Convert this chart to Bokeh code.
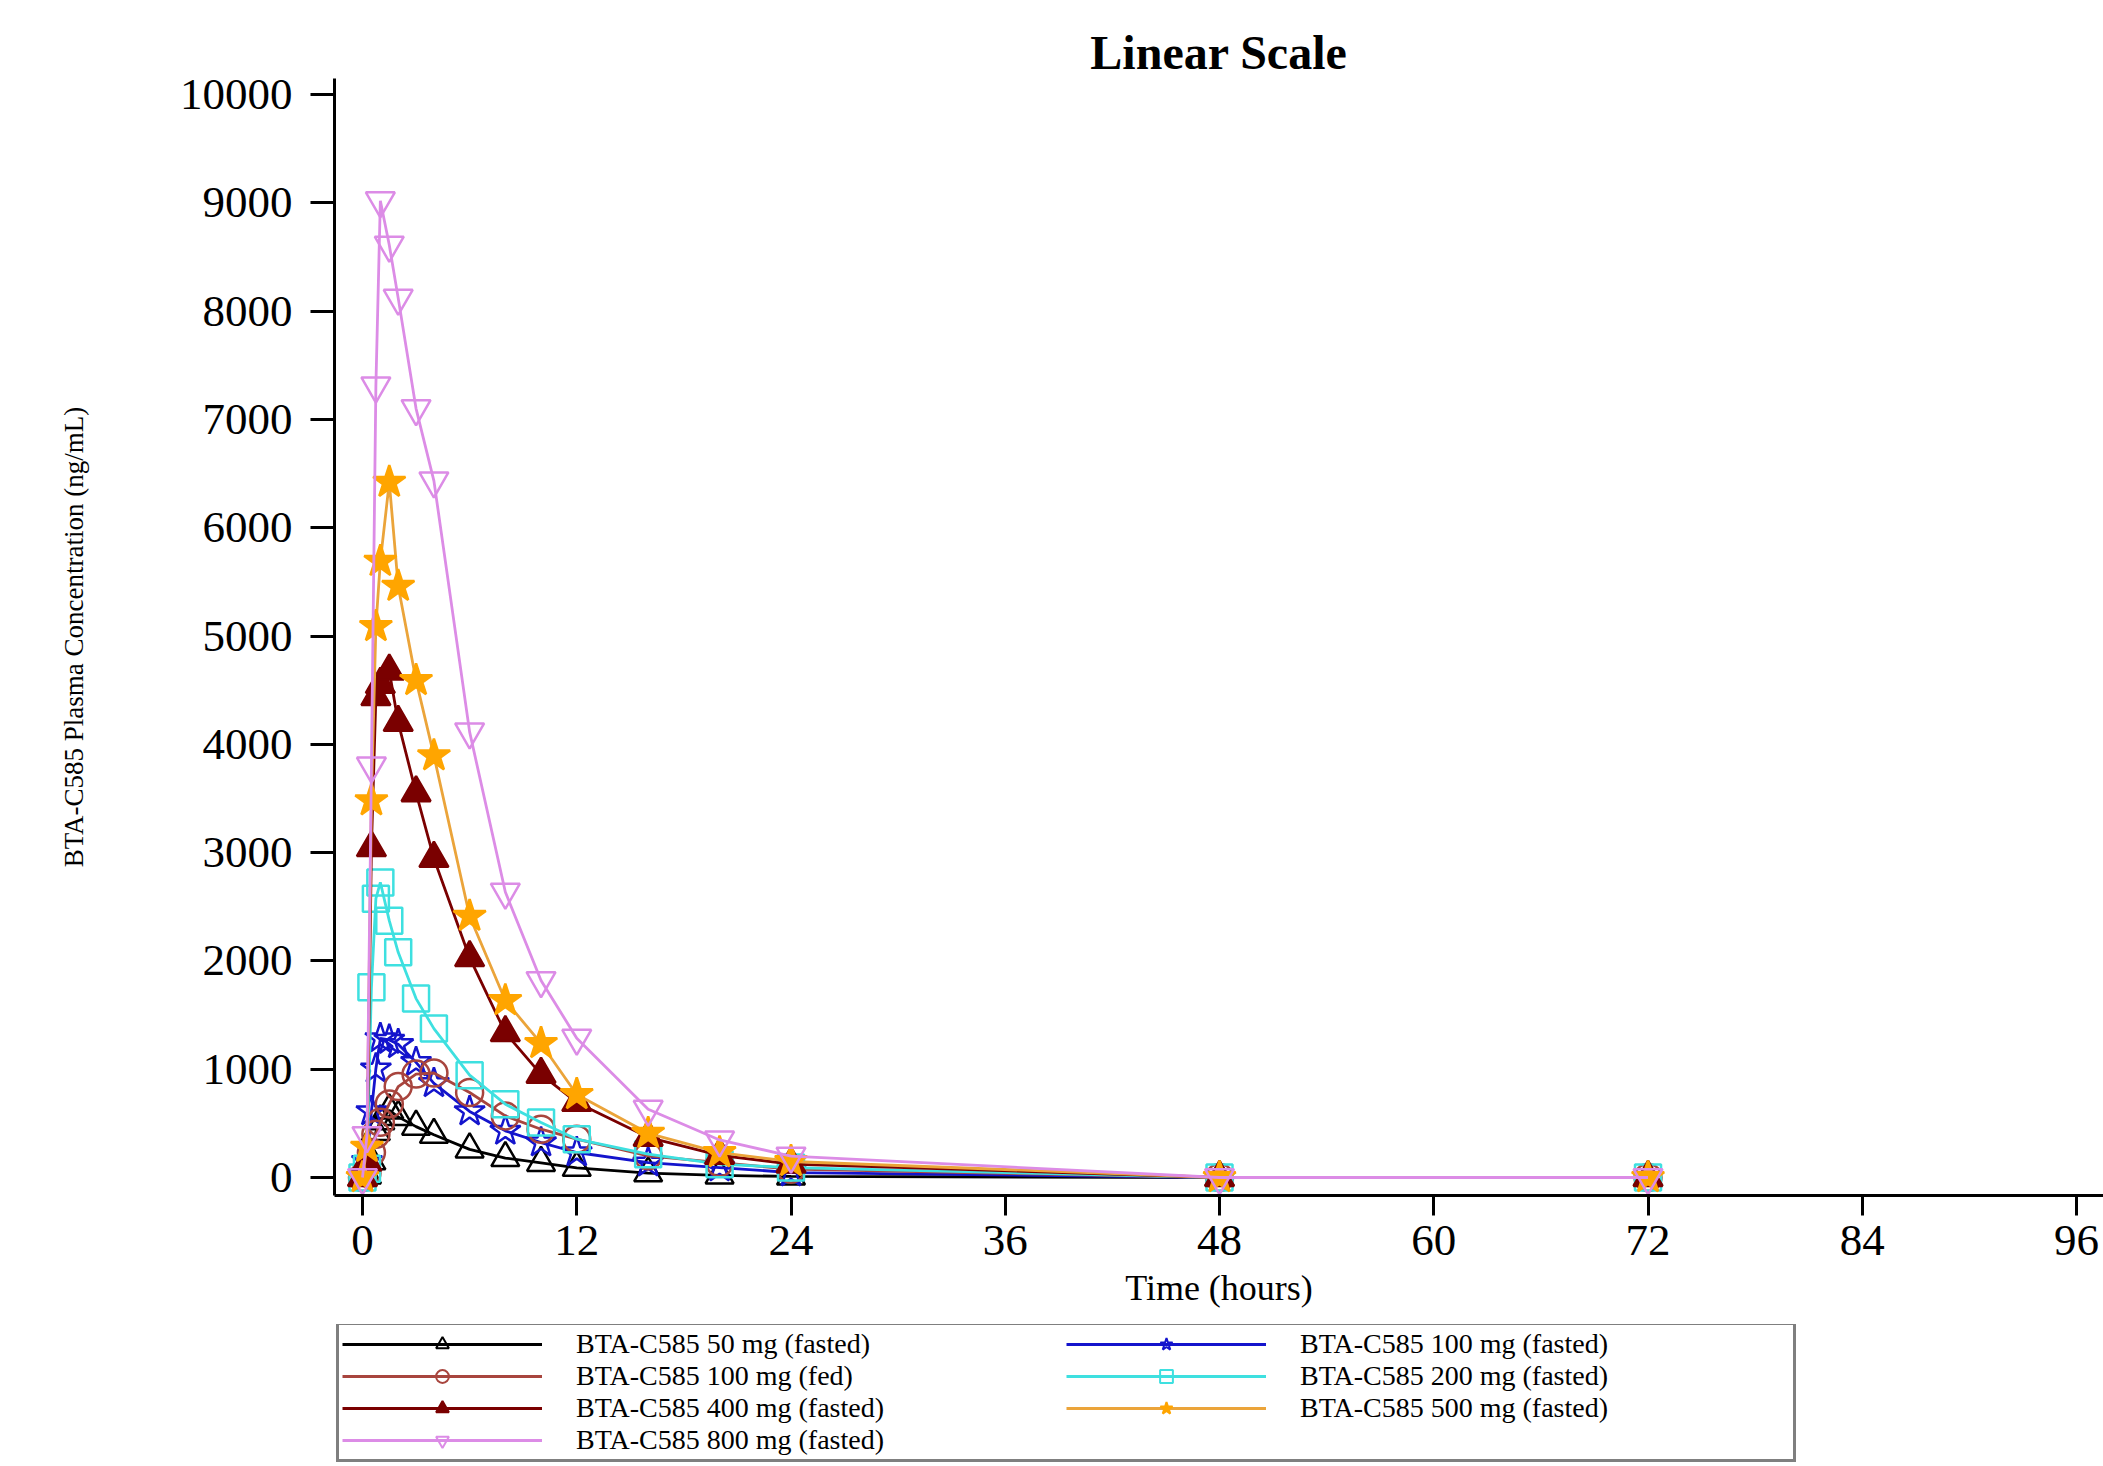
from bokeh.plotting import figure
from bokeh.layouts import column
from bokeh.models import FixedTicker, Legend, LegendItem, Range1d
from bokeh.embed import file_html
from bokeh.resources import INLINE

# ---------------- data ----------------
time_h = [0, 0.25, 0.5, 0.75, 1, 1.5, 2, 3, 4, 6, 8, 10, 12, 16, 20, 24, 48, 72]

conc_50_fasted = [0, 20, 150, 420, 520, 620, 560, 470, 395, 260, 180, 135, 90, 40, 20, 10, 0, 0]
conc_100_fasted = [0, 150, 610, 1005, 1285, 1270, 1230, 1064, 870, 610, 431, 323, 231, 138, 92, 46, 0, 0]
conc_100_fed = [0, 40, 230, 400, 510, 680, 840, 955, 965, 785, 569, 446, 354, 200, 138, 77, 0, 0]
conc_200_fasted = [0, 80, 1756, 2575, 2725, 2372, 2080, 1652, 1375, 945, 677, 508, 354, 215, 123, 92, 0, 0]
conc_400_fasted = [0, 141, 3045, 4440, 4553, 4677, 4202, 3552, 2946, 2030, 1337, 953, 693, 371, 205, 124, 0, 0]
conc_500_fasted = [0, 280, 3480, 5089, 5690, 6420, 5460, 4590, 3895, 2413, 1634, 1238, 767, 408, 230, 148, 0, 0]
conc_800_fasted = [0, 387, 3800, 7310, 9020, 8610, 8120, 7100, 6433, 4115, 2636, 1819, 1287, 631, 347, 198, 0, 0]

labels = [
    "BTA-C585 50 mg (fasted)",
    "BTA-C585 100 mg (fasted)",
    "BTA-C585 100 mg (fed)",
    "BTA-C585 200 mg (fasted)",
    "BTA-C585 400 mg (fasted)",
    "BTA-C585 500 mg (fasted)",
    "BTA-C585 800 mg (fasted)",
]
series = [conc_50_fasted, conc_100_fasted, conc_100_fed, conc_200_fasted,
          conc_400_fasted, conc_500_fasted, conc_800_fasted]

x_ticks = [0, 12, 24, 36, 48, 60, 72, 84, 96]
y_ticks = [0, 1000, 2000, 3000, 4000, 5000, 6000, 7000, 8000, 9000, 10000]

# ---------------- styles ----------------
line_colors = ["#000000", "#1414CC", "#A8453E", "#3EE0E0", "#7A0000", "#EBA43A", "#DC8CE6"]
mark_colors = ["#000000", "#1414CC", "#A8453E", "#3EE0E0", "#7A0000", "#FFA500", "#DC8CE6"]
markers = ["triangle", "star", "circle", "square", "triangle", "star", "inverted_triangle"]
filled = [False, False, False, False, True, True, False]
sizes = [28, 32, 27, 26, 29, 34, 29]
legend_order = [0, 2, 4, 6, 1, 3, 5]

FONT = "Liberation Serif"
MAIN_H = 1324
LEG_H = 1466 - MAIN_H

# ---------------- main plot ----------------
p = figure(frame_width=1769, frame_height=1117,
           x_range=Range1d(-1.568, 97.51), y_range=Range1d(-166, 10148),
           output_backend="svg", toolbar_location=None,
           min_border_left=334, min_border_right=0, min_border_top=78,
           min_border_bottom=MAIN_H - 78 - 1117,
           title="Linear Scale")
p.outline_line_color = None
p.xgrid.visible = False
p.ygrid.visible = False
p.background_fill_color = "white"
p.border_fill_color = "white"

p.title.align = "center"
p.title.text_font = FONT
p.title.text_font_size = "48px"
p.title.text_font_style = "bold"
p.title.text_color = "black"
p.title.standoff = 0

for ax in (p.xaxis[0], p.yaxis[0]):
    ax.axis_line_width = 3
    ax.axis_line_color = "black"
    ax.major_tick_line_width = 3
    ax.major_tick_line_color = "black"
    ax.major_tick_in = 0
    ax.minor_tick_line_color = None
    ax.major_label_text_font = FONT
    ax.major_label_text_font_size = "45px"
    ax.major_label_text_color = "black"
    ax.axis_label_text_font = FONT
    ax.axis_label_text_font_style = "normal"
    ax.axis_label_text_color = "black"

p.xaxis.ticker = FixedTicker(ticks=x_ticks)
p.xaxis.major_tick_out = 20
p.xaxis.major_label_standoff = 10
p.xaxis.axis_label = "Time (hours)"
p.xaxis.axis_label_text_font_size = "36px"
p.xaxis.axis_label_standoff = 10

p.yaxis.ticker = FixedTicker(ticks=y_ticks)
p.yaxis.major_tick_out = 24
p.yaxis.major_label_standoff = 18
p.yaxis.axis_label = "BTA-C585 Plasma Concentration (ng/mL)"
p.yaxis.axis_label_text_font_size = "27px"
p.yaxis.axis_label_standoff = 88

for i, vals in enumerate(series):
    p.line(time_h, vals, line_color=line_colors[i], line_width=2.8)
    p.scatter(time_h, vals, marker=markers[i], size=sizes[i],
              line_color=mark_colors[i], line_width=2.5,
              fill_color=mark_colors[i] if filled[i] else None)

# ---------------- legend strip ----------------
# same series drawn again, but the strip's x range lies before time 0,
# so only the legend samples are visible
q = figure(width=2103, height=LEG_H,
           x_range=Range1d(-3, -2), y_range=Range1d(0, 1),
           output_backend="svg", toolbar_location=None,
           x_axis_location=None, y_axis_location=None,
           min_border_left=0, min_border_right=0, min_border_top=0, min_border_bottom=0)
q.outline_line_color = None
q.xgrid.visible = False
q.ygrid.visible = False
q.border_fill_color = "white"
q.background_fill_color = "white"

samples = []
for i, vals in enumerate(series):
    ln = q.line(time_h, vals, line_color=line_colors[i], line_width=2.8)
    sc = q.scatter(time_h, vals, marker=markers[i], size=sizes[i],
                   line_color=mark_colors[i], line_width=2,
                   fill_color=mark_colors[i] if filled[i] else None)
    samples.append([ln, sc])

items = [LegendItem(label=labels[i], renderers=samples[i]) for i in legend_order]
legend = Legend(items=items, location=(2, 4), ncols=2, orientation="vertical",
                label_text_font=FONT, label_text_font_size="28px", label_text_color="black",
                glyph_width=200, glyph_height=32, label_height=30, label_width=490,
                label_standoff=34, spacing=0, padding=3, margin=0,
                border_line_color="black", border_line_width=3,
                background_fill_color="white", background_fill_alpha=1.0)
q.add_layout(legend, "center")

layout = column(p, q, spacing=0)
open("out.html", "w").write(file_html(layout, INLINE))
